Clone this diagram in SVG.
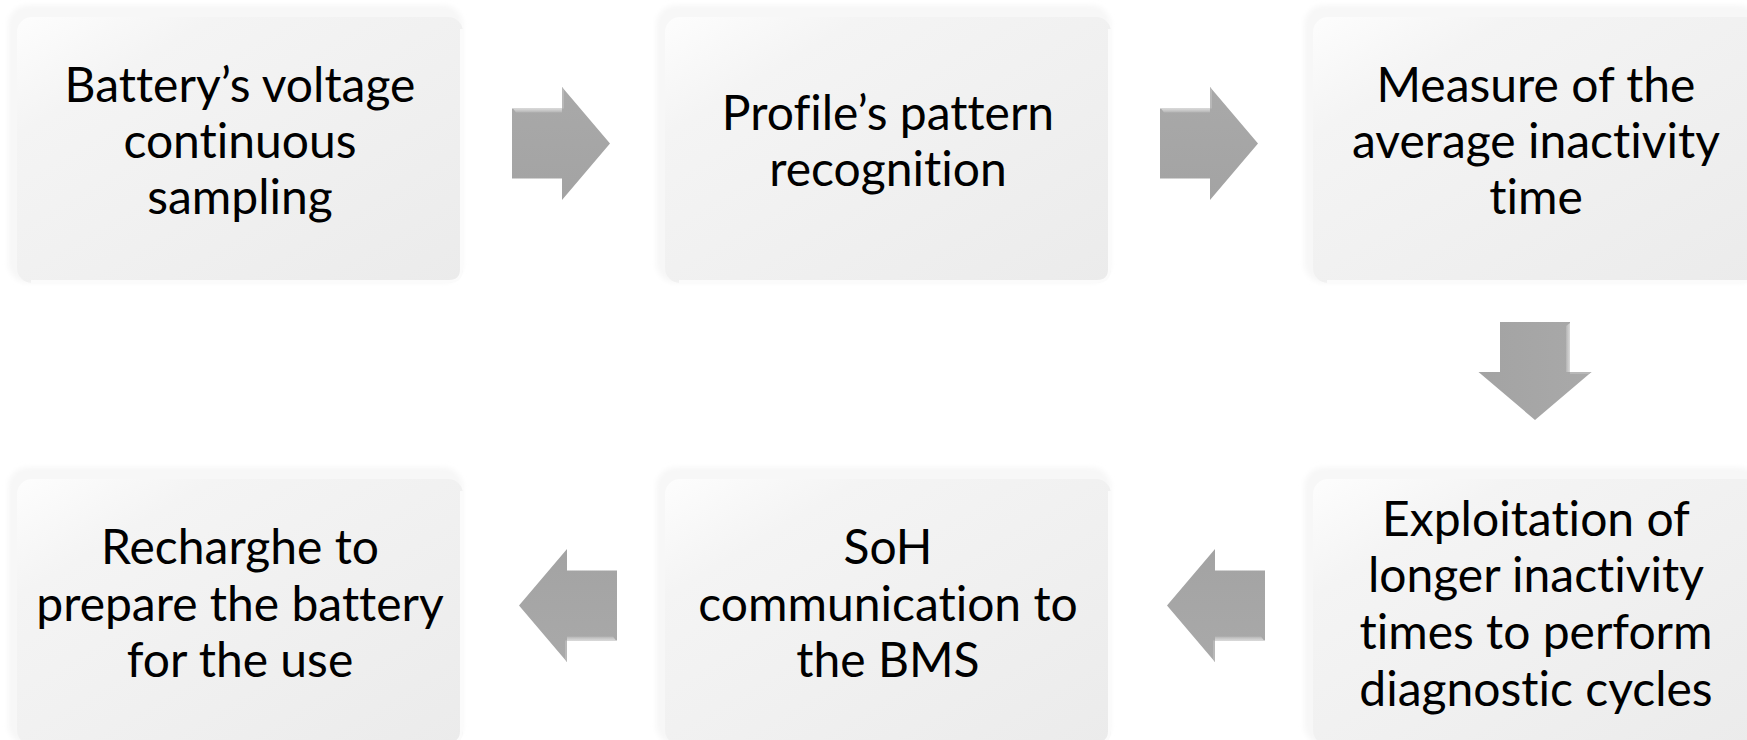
<svg xmlns="http://www.w3.org/2000/svg" width="1747" height="740" viewBox="0 0 1747 740">
  <defs>
    <style>
      .label { font-family: Lato, "Open Sans", "Liberation Sans", sans-serif; font-size: 48px; fill: #000; text-anchor: middle; font-variant-ligatures: none; font-feature-settings: "liga" 0, "clig" 0; }
      .halo { fill: #f7f7f7; filter: url(#soft); }
      .body { fill: url(#boxGrad); }
      .edge { fill: none; stroke: #fbfbfb; stroke-width: 3; }
    </style>
    <linearGradient id="boxGrad" x1="0" y1="0" x2="1" y2="1">
      <stop offset="0" stop-color="#fdfdfd"/>
      <stop offset="0.22" stop-color="#f4f4f4"/>
      <stop offset="1" stop-color="#ebebeb"/>
    </linearGradient>
    <linearGradient id="arrowGrad" x1="0" y1="0" x2="0" y2="1">
      <stop offset="0" stop-color="#a9a9a9"/>
      <stop offset="1" stop-color="#a3a3a3"/>
    </linearGradient>
    <linearGradient id="shine" x1="0" y1="0" x2="0" y2="1">
      <stop offset="0" stop-color="#dadada"/>
      <stop offset="1" stop-color="#b4b4b4"/>
    </linearGradient>
    <filter id="soft" x="-10%" y="-10%" width="120%" height="120%">
      <feGaussianBlur stdDeviation="2.5"/>
    </filter>
    <!-- block arrow pointing right, tail centre at origin -->
    <g id="blockArrow">
      <polygon points="0,-35 50,-35 50,-56.5 98,0 50,56.5 50,35 0,35" fill="url(#arrowGrad)"/>
      <polygon points="1,-35 50,-35 50,-31 4,-31" fill="url(#shine)"/>
      <polygon points="50,-35 50,-56.5 52,-53.5 52,-35" fill="#b8b8b8"/>
    </g>
    <!-- rounded process box, 446 x 266 -->
    <g id="box">
      <rect class="halo" x="-9" y="-12" width="455" height="278" rx="20"/>
      <rect class="body" x="0" y="0" width="446" height="266" rx="15"/>
      <path class="edge" d="M 444.5,12 V 252 Q 444.5,264.5 432,264.5 H 14"/>
    </g>
  </defs>

  <rect width="1747" height="740" fill="#ffffff"/>

  <g id="node-sampling">
    <use href="#box" x="17" y="17"/>
    <text class="label" x="240" y="102">Battery’s voltage</text>
    <text class="label" x="240" y="158">continuous</text>
    <text class="label" x="240" y="214">sampling</text>
  </g>

  <g id="node-pattern">
    <use href="#box" x="665" y="17"/>
    <text class="label" x="888" y="130">Profile’s pattern</text>
    <text class="label" x="888" y="186">recognition</text>
  </g>

  <g id="node-inactivity">
    <use href="#box" x="1313" y="17"/>
    <text class="label" x="1536" y="102">Measure of the</text>
    <text class="label" x="1536" y="158">average inactivity</text>
    <text class="label" x="1536" y="214">time</text>
  </g>

  <g id="node-diagnostic">
    <use href="#box" x="1313" y="479"/>
    <text class="label" x="1536" y="536">Exploitation of</text>
    <text class="label" x="1536" y="592">longer inactivity</text>
    <text class="label" x="1536" y="649">times to perform</text>
    <text class="label" x="1536" y="706">diagnostic cycles</text>
  </g>

  <g id="node-soh">
    <use href="#box" x="665" y="479"/>
    <text class="label" x="888" y="564">SoH</text>
    <text class="label" x="888" y="621">communication to</text>
    <text class="label" x="888" y="677">the BMS</text>
  </g>

  <g id="node-recharge">
    <use href="#box" x="17" y="479"/>
    <text class="label" x="240" y="564">Recharghe to</text>
    <text class="label" x="240" y="621">prepare the battery</text>
    <text class="label" x="240" y="677">for the use</text>
  </g>

  <g id="connectors">
    <use href="#blockArrow" transform="translate(512,143.5)"/>
    <use href="#blockArrow" transform="translate(1160,143.5)"/>
    <use href="#blockArrow" transform="translate(1535,322) rotate(90)"/>
    <use href="#blockArrow" transform="translate(1265,605.5) rotate(180)"/>
    <use href="#blockArrow" transform="translate(617,605.5) rotate(180)"/>
  </g>
</svg>
